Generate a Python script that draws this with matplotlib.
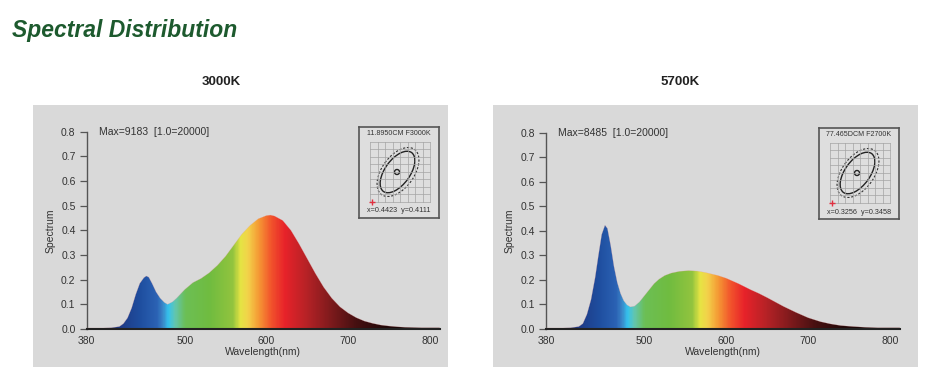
import numpy as np
import matplotlib
matplotlib.use("Agg")
import matplotlib.pyplot as plt
from matplotlib.colors import LinearSegmentedColormap
from matplotlib.patches import Rectangle, Ellipse

# spectra (wavelength nm, relative spectrum)
wl_3000 = [380, 390, 400, 410, 420, 425, 430, 435, 440, 445, 450, 453, 456, 460, 465, 470, 475, 479,
           485, 490, 500, 510, 520, 530, 540, 550, 560, 570, 580, 590, 600, 605, 610, 620, 630, 640,
           650, 660, 670, 680, 690, 700, 710, 720, 730, 740, 750, 760, 770, 780, 790, 800, 812]
sp_3000 = [0.004, 0.004, 0.004, 0.005, 0.010, 0.022, 0.045, 0.085, 0.140, 0.185, 0.208, 0.215, 0.210,
           0.185, 0.150, 0.125, 0.108, 0.100, 0.110, 0.125, 0.160, 0.188, 0.205, 0.228, 0.258, 0.295,
           0.340, 0.385, 0.420, 0.447, 0.460, 0.462, 0.458, 0.440, 0.400, 0.345, 0.285, 0.225, 0.170,
           0.125, 0.090, 0.065, 0.046, 0.032, 0.023, 0.016, 0.012, 0.009, 0.007, 0.006, 0.005, 0.005, 0.005]

wl_5700 = [380, 390, 400, 410, 420, 425, 430, 435, 440, 444, 448, 452, 455, 459, 463, 467, 471, 475,
           479, 483, 488, 494, 500, 506, 512, 518, 525, 533, 543, 554, 565, 575, 590, 600, 615, 630,
           640, 650, 660, 670, 685, 700, 715, 727, 740, 755, 770, 785, 800, 812]
sp_5700 = [0.004, 0.004, 0.004, 0.005, 0.010, 0.022, 0.060, 0.120, 0.210, 0.300, 0.385, 0.423, 0.410,
           0.340, 0.255, 0.190, 0.145, 0.115, 0.098, 0.090, 0.093, 0.110, 0.135, 0.160, 0.185, 0.203,
           0.218, 0.228, 0.235, 0.238, 0.236, 0.230, 0.218, 0.207, 0.185, 0.160, 0.145, 0.128, 0.110,
           0.092, 0.068, 0.046, 0.030, 0.021, 0.014, 0.010, 0.007, 0.005, 0.005, 0.005]

# wavelength colour stops for the gradient
stop_wl = [380, 420, 445, 465, 472, 479, 487, 500, 530, 558, 568, 577, 590, 605, 622, 650, 680, 710, 745, 812]
stop_col = ["#1b2440", "#1d3a86", "#1f4fa0", "#2b62b4", "#3a86c8", "#35c3ee", "#62c6b0", "#6cbf55",
            "#70bc40", "#92c43e", "#e6e444", "#f3d24a", "#f59a35", "#f2552c", "#e8232a", "#b42226",
            "#7c1a1c", "#461011", "#220808", "#140505"]

panels = [
    dict(name="3000K", wl=wl_3000, sp=sp_3000, maxtxt="Max=9183  [1.0=20000]",
         cie_title="11.8950CM F3000K", cie_xy="x=0.4423  y=0.4111", title_x=221,
         bg=(33, 105, 448, 367), ax=(86.7, 329, 439.6, 131.7), inset=(359, 127, 439, 218)),
    dict(name="5700K", wl=wl_5700, sp=sp_5700, maxtxt="Max=8485  [1.0=20000]",
         cie_title="77.465DCM F2700K", cie_xy="x=0.3256  y=0.3458", title_x=680,
         bg=(493, 105, 918, 367), ax=(546, 329, 899.8, 132.7), inset=(819, 128, 899, 219)),
]

W, H = 925, 390
plt.rcParams["font.family"] = ["Liberation Sans", "DejaVu Sans"]


def fbox(x0, y0, x1, y1):
    # pixel box (top-left origin) -> figure fraction rect
    return [x0 / W, 1 - y1 / H, (x1 - x0) / W, (y1 - y0) / H]


fig = plt.figure(figsize=(W / 100, H / 100), dpi=100)
fig.patch.set_facecolor("white")

fig.text(12 / W, 1 - 30 / H, "Spectral Distribution", color="#1d5a2e", fontsize=16.5,
         fontweight="bold", fontstyle="italic", va="center", ha="left")

cmap = LinearSegmentedColormap.from_list(
    "spec", [((w - 380) / (812 - 380), c) for w, c in zip(stop_wl, stop_col)])

for p in panels:
    bx0, by0, bx1, by1 = p["bg"]
    bg = fig.add_axes(fbox(bx0, by0, bx1, by1), zorder=-5)
    bg.set_facecolor("#d9d9d9")
    bg.set_axis_off()
    bg.add_patch(Rectangle((0, 0), 1, 1, transform=bg.transAxes, facecolor="#d9d9d9",
                           edgecolor="none"))
    fig.text(p["title_x"] / W, 1 - 82 / H, p["name"], fontsize=9.5, fontweight="bold",
             ha="center", va="center", color="#222222")

    x0, y0, x1, y1 = p["ax"]
    ax = fig.add_axes([x0 / W, 1 - y0 / H, (x1 - x0) / W, (y0 - y1) / H])
    ax.set_facecolor("none")
    ax.set_xlim(380, 812)
    ax.set_ylim(0, 0.8)

    wl = np.array(p["wl"])
    sp = np.array(p["sp"])
    poly = ax.fill_between(wl, 0, sp, facecolor="none", edgecolor="none")
    grad = np.linspace(0, 1, 600).reshape(1, -1)
    im = ax.imshow(grad, extent=[380, 812, 0, 0.8], aspect="auto", cmap=cmap, origin="lower",
                   interpolation="bilinear", zorder=2)
    im.set_clip_path(poly.get_paths()[0], transform=ax.transData)
    ax.plot(wl, sp, color="#e8a0a0", lw=0.3, alpha=0.5, zorder=3)

    for s in ["top", "right"]:
        ax.spines[s].set_visible(False)
    ax.spines["left"].set_color("#555555")
    ax.spines["left"].set_linewidth(1.0)
    ax.spines["bottom"].set_color("#222222")
    ax.spines["bottom"].set_linewidth(1.5)
    ax.spines["bottom"].set_zorder(4)

    ax.set_yticks([0, 0.1, 0.2, 0.3, 0.4, 0.5, 0.6, 0.7, 0.8])
    ax.set_yticklabels(["0.0", "0.1", "0.2", "0.3", "0.4", "0.5", "0.6", "0.7", "0.8"])
    ax.set_xticks([380, 500, 600, 700, 800])
    ax.tick_params(axis="y", length=5, width=0.9, color="#555555", pad=3, labelsize=7.5,
                   labelcolor="#333333")
    ax.tick_params(axis="x", length=0, pad=5, labelsize=7.5, labelcolor="#333333")
    ax.set_xlabel("Wavelength(nm)", fontsize=7.5, color="#333333", labelpad=1)
    ax.set_ylabel("Spectrum", fontsize=7.5, color="#333333", labelpad=4)

    ax.text(395, 0.8, p["maxtxt"], fontsize=7.5, color="#333333", va="center", ha="left")

    # chromaticity inset
    ix0, iy0, ix1, iy1 = p["inset"]
    iax = fig.add_axes(fbox(ix0, iy0, ix1, iy1))
    iax.set_xlim(0, 80)
    iax.set_ylim(91, 0)
    iax.set_facecolor("#dedede")
    for s in iax.spines.values():
        s.set_color("#555555")
        s.set_linewidth(1.2)
    iax.set_xticks([])
    iax.set_yticks([])
    iax.text(40, 6.5, p["cie_title"], fontsize=5.1, ha="center", va="center", color="#333333")
    gx = np.linspace(11, 71, 9)
    gy = np.linspace(14.5, 74.5, 9)
    for g in gx:
        iax.plot([g, g], [gy[0], gy[-1]], color="#a4a4a4", lw=0.5)
    for g in gy:
        iax.plot([gx[0], gx[-1]], [g, g], color="#a4a4a4", lw=0.5)
    iax.add_patch(Ellipse((38.5, 45), 48, 25, angle=-54, fill=False, ec="#222222", lw=1.0))
    iax.add_patch(Ellipse((39, 45), 56, 32, angle=-54, fill=False, ec="#333333", lw=0.8,
                          ls=(0, (2, 1.5))))
    iax.add_patch(Ellipse((38, 45), 5, 5, fill=False, ec="#222222", lw=1.0))
    iax.plot([12.5], [75], marker="+", color="#e03040", ms=4, mew=1)
    iax.text(40, 84, p["cie_xy"], fontsize=5.2, ha="center", va="center", color="#333333")

fig.savefig("out.png", dpi=100, facecolor="white")
